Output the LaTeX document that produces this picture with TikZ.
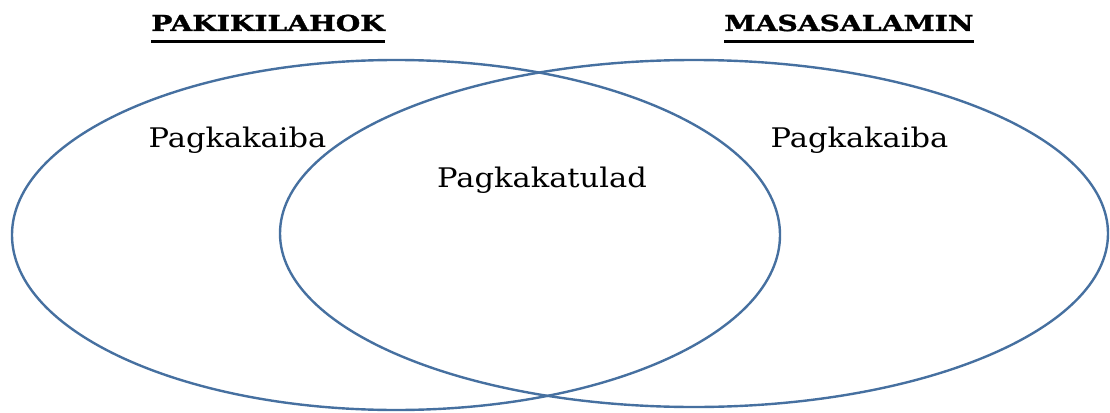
\documentclass[tikz,border=0pt]{standalone}
\usepackage{fontspec}
\setmainfont{DejaVu Serif}
\newfontfamily\bodyfont[FakeStretch=1.13]{DejaVu Serif}
\newfontfamily\titlefont[FakeStretch=1.28,FakeBold=1.5]{DejaVu Serif Bold}
\usetikzlibrary{shapes.geometric}
\definecolor{vennblue}{RGB}{70,112,160}
\begin{document}
\begin{tikzpicture}[x=1pt,y=-1pt]
	\useasboundingbox (0,0) rectangle (1110,412);

	\draw node[ellipse, draw=vennblue, line width=2.4pt, inner sep=0, minimum width=768pt, minimum height=350pt] (left) at (396,235) {};
	\draw node[ellipse, draw=vennblue, line width=2.4pt, inner sep=0, minimum width=828pt, minimum height=347pt] (right) at (694,233.5) {};

	\draw node[anchor=base, font=\titlefont\fontsize{22}{22}\selectfont, inner sep=0] (t1) at (268,31) {PAKIKILAHOK};
	\draw node[anchor=base, font=\titlefont\fontsize{22}{22}\selectfont, inner sep=0] (t2) at (849,31) {MASASALAMIN};
	\draw[line width=3pt] ([yshift=-10.5pt]t1.base west) -- ([yshift=-10.5pt]t1.base east);
	\draw[line width=3pt] ([yshift=-10.5pt]t2.base west) -- ([yshift=-10.5pt]t2.base east);

	\draw node[anchor=base, font=\bodyfont\fontsize{27}{27}\selectfont, inner sep=0] (a) at (237.5,147) {Pagkakaiba};
	\draw node[anchor=base, font=\bodyfont\fontsize{27}{27}\selectfont, inner sep=0] (b) at (542,187) {Pagkakatulad};
	\draw node[anchor=base, font=\bodyfont\fontsize{27}{27}\selectfont, inner sep=0] (c) at (859.5,147) {Pagkakaiba};
\end{tikzpicture}
\end{document}
